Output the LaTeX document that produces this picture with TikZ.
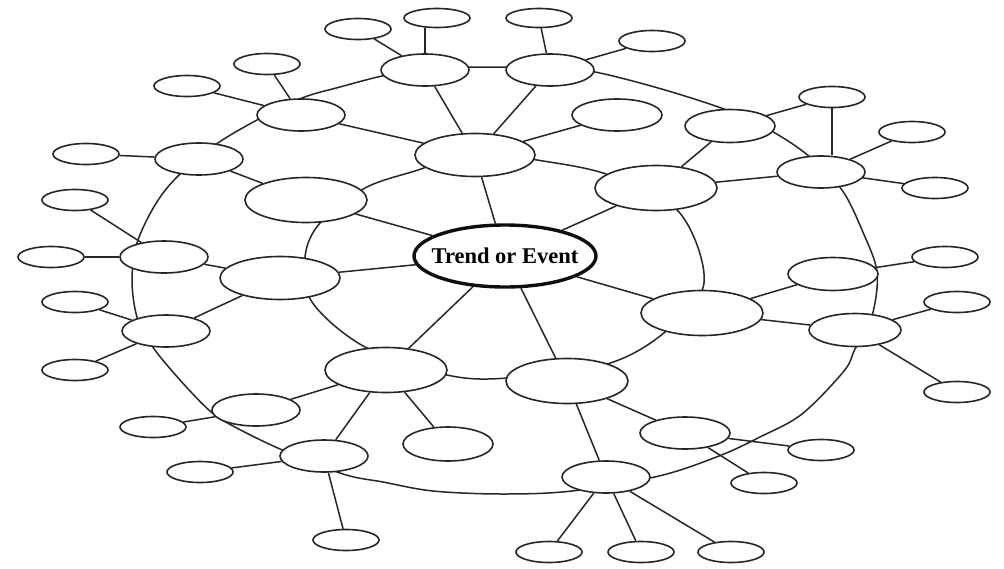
\documentclass[tikz,border=0pt]{standalone}
\usepackage{fontspec}
\setmainfont{Liberation Serif}
\usetikzlibrary{shapes.geometric}
\pgfdeclarelayer{back}
\pgfsetlayers{back,main}
\begin{document}
\begin{tikzpicture}[x=1pt,y=-1pt,
  every node/.style={ellipse, draw=black!85, line width=1.6pt, fill=white, inner sep=0pt},
  sm/.style={minimum width=66pt, minimum height=21pt},
  rg/.style={minimum width=88pt, minimum height=32pt},
  md/.style={minimum width=90pt, minimum height=33pt},
  big/.style={minimum width=122pt, minimum height=45pt},
  ln/.style={draw=black!85, line width=1.5pt}]
\useasboundingbox (0,0) rectangle (1004,568);
% central
\node[minimum width=182pt, minimum height=62pt, inner xsep=-9pt, line width=3.4pt, draw=black!95,
      font=\fontsize{22.5}{26}\selectfont\bfseries] (c) at (505,256) {Trend or Event};
% inner ring
\node[big, minimum width=120pt, minimum height=43pt] (i1) at (475,155) {};
\node[big] (i2) at (306,200) {};
\node[big, minimum width=120pt, minimum height=43pt] (i3) at (280,278) {};
\node[big] (i4) at (386,370) {};
\node[big] (i5) at (567,381) {};
\node[big] (i6) at (702,313) {};
\node[big] (i7) at (656,188) {};
% outer ring
\node[rg] (r1) at (425,70) {};
\node[rg] (r2) at (550,70) {};
\node[md] (r3) at (730,126) {};
\node[rg] (r4) at (821,172) {};
\node[md] (r5) at (833,274) {};
\node[md, minimum width=92pt] (r6) at (855,330) {};
\node[rg] (r7) at (606,477) {};
\node[rg] (r8) at (324,456) {};
\node[rg] (r9) at (256,410) {};
\node[rg] (r10) at (166,331) {};
\node[rg] (r11) at (164,257) {};
\node[rg] (r12) at (199,159) {};
\node[rg] (r13) at (301,115) {};
% others
\node[md, minimum height=32pt] (m1) at (617,115) {};
\node[md, minimum height=34pt] (m2) at (448,444) {};
\node[md, minimum height=32pt] (m3) at (685,433) {};
% small
\node[sm, minimum height=19pt] (s1) at (437,18) {};
\node[sm] (s2) at (358,29) {};
\node[sm, minimum height=19pt] (s3) at (539,18) {};
\node[sm] (s4) at (652,41) {};
\node[sm] (s5) at (267,64) {};
\node[sm] (s6) at (187,86) {};
\node[sm] (s7) at (86,154) {};
\node[sm] (s8) at (75,200) {};
\node[sm] (s9) at (51,257) {};
\node[sm] (s10) at (75,302) {};
\node[sm] (s11) at (75,370) {};
\node[sm] (s12) at (153,427) {};
\node[sm] (s13) at (200,472) {};
\node[sm] (s14) at (346,540) {};
\node[sm] (s15) at (832,97) {};
\node[sm] (s16) at (912,132) {};
\node[sm] (s17) at (935,188) {};
\node[sm] (s18) at (945,257) {};
\node[sm] (s19) at (957,302) {};
\node[sm] (s20) at (957,392) {};
\node[sm] (s21) at (821,450) {};
\node[sm] (s22) at (764,483) {};
\node[sm] (s23) at (549,552) {};
\node[sm] (s24) at (641,552) {};
\node[sm] (s25) at (731,552) {};
\begin{pgfonlayer}{back}
\fill[white] (0,0) rectangle (1004,568);
% outer ring curve
\draw[ln] plot[smooth cycle, tension=0.55] coordinates {
  (470,67) (550,68) (595,72) (665,90) (732,112) (775,133) (810,157) (842,190)
  (862,230) (877,272) (872,316) (855,349) (844,371) (802,414) (760,437) (719,456)
  (659,476) (572,491) (502,494) (433,491) (383,482) (343,474) (280,449) (233,426)
  (210,411) (180,380) (152,346) (137,317) (132,280) (137,243) (155,205) (177,177)
  (215,145) (257,120) (302,98) (340,87) (382,76) (425,68)};
% inner ring curve
\draw[ln] plot[smooth cycle, tension=0.55] coordinates {
  (537,160) (475,152) (418,170) (365,188) (320,223) (305,257) (312,302) (365,347)
  (447,375) (508,378) (607,364) (665,332) (704,283) (679,212) (609,175)};
% spokes from centre
\foreach \n in {i1,i2,i3,i4,i5,i6,i7} \draw[ln] (c) -- (\n);
% inner to outer
\draw[ln] (i1) -- (r1);
\draw[ln] (i1) -- (r2);
\draw[ln] (i1) -- (m1);
\draw[ln] (i1) -- (r13);
\draw[ln] (i2) -- (r12);
\draw[ln] (i3) -- (r11);
\draw[ln] (i3) -- (r10);
\draw[ln] (i4) -- (r9);
\draw[ln] (i4) -- (r8);
\draw[ln] (i4) -- (m2);
\draw[ln] (i5) -- (r7);
\draw[ln] (i5) -- (m3);
\draw[ln] (i6) -- (r6);
\draw[ln] (i6) -- (r5);
\draw[ln] (i7) -- (r4);
\draw[ln] (i7) -- (r3);
% outer to small
\draw[ln] (r1.north) -- (r1.north |- s1.south);
\draw[ln] (r1) -- (s2);
\draw[ln] (r2) -- (s3);
\draw[ln] (r2) -- (s4);
\draw[ln] (r13) -- (s5);
\draw[ln] (r13) -- (s6);
\draw[ln] (r12) -- (s7);
\draw[ln] (r11) -- (s8);
\draw[ln] (r11) -- (s9);
\draw[ln] (r10) -- (s10);
\draw[ln] (r10) -- (s11);
\draw[ln] (r9) -- (s12);
\draw[ln] (r8) -- (s13);
\draw[ln] (r8) -- (s14);
\draw[ln] (r3) -- (s15);
\draw[ln] (s15.south) -- (s15.south |- r4.north);
\draw[ln] (r4) -- (s16);
\draw[ln] (r4) -- (s17);
\draw[ln] (r5) -- (s18);
\draw[ln] (r6) -- (s19);
\draw[ln] (r6) -- (s20);
\draw[ln] (m3) -- (s21);
\draw[ln] (m3) -- (s22);
\draw[ln] (r7) -- (s23);
\draw[ln] (r7) -- (s24);
\draw[ln] (r7) -- (s25);
\end{pgfonlayer}
\end{tikzpicture}
\end{document}
